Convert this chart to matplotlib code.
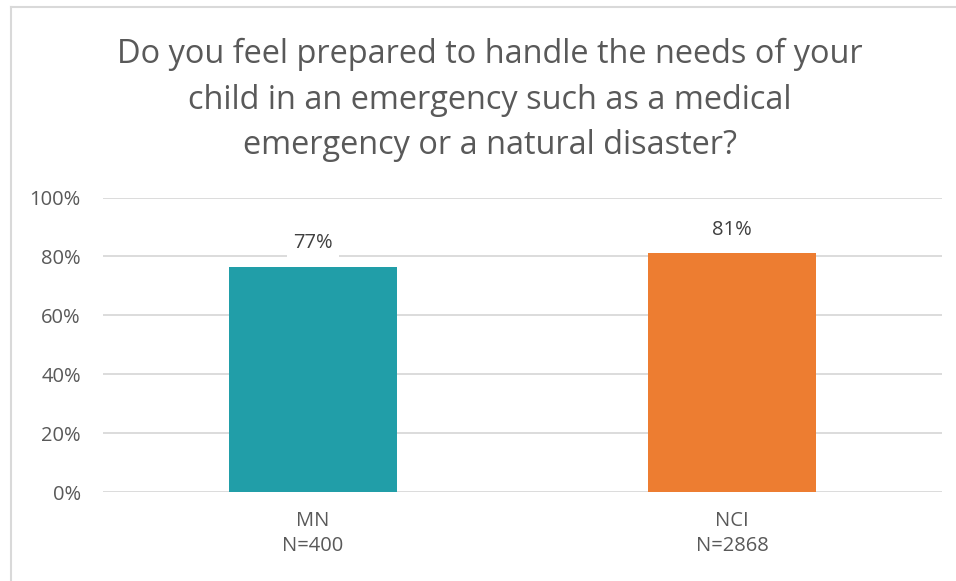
import matplotlib.pyplot as plt
from matplotlib.lines import Line2D

categories = ["MN\nN=400", "NCI\nN=2868"]
values = [0.765, 0.81]
labels = ["77%", "81%"]
colors = ["#219EA8", "#ED7D31"]
yticks = [0, 0.2, 0.4, 0.6, 0.8, 1.0]
ytick_labels = ["0%", "20%", "40%", "60%", "80%", "100%"]

title = ("Do you feel prepared to handle the needs of your\n"
         "child in an emergency such as a medical\n"
         "emergency or a natural disaster?")

plt.rcParams['font.family'] = ['Open Sans', 'DejaVu Sans']
txt = "#595959"

fig = plt.figure(figsize=(9.56, 5.81), dpi=100)
ax = fig.add_axes([103/956, 1 - 492/581, 839/956, 294.5/581])

x = range(len(categories))
ax.bar(x, values, width=0.4, color=colors, zorder=2)
ax.set_xlim(-0.5, 1.5)
ax.set_ylim(0, 1.0)

ax.set_yticks(yticks)
ax.set_yticklabels(ytick_labels, color=txt, fontsize=14.5)
ax.set_xticks(list(x))
ax.set_xticklabels(categories, color=txt, fontsize=14.5, linespacing=1.3)
ax.tick_params(length=0)
ax.tick_params(axis='x', pad=14)
ax.tick_params(axis='y', pad=16)
ax.grid(axis='y', color="#d9d9d9", linewidth=1.3, zorder=0)
ax.set_axisbelow(True)
for s in ax.spines.values():
    s.set_visible(False)

for i, (v, lab) in enumerate(zip(values, labels)):
    ax.annotate(lab, (i, v), xytext=(0, 10), textcoords="offset points",
                ha="center", va="bottom", fontsize=14.5, color="#404040",
                bbox=dict(boxstyle="square,pad=0.3", fc="white", ec="none"),
                zorder=3)

fig.text(490/956, 1 - 100/581, title, ha="center", va="center",
         fontsize=23.4, color=txt, linespacing=1.5)

# chart border (left and top edges visible)
fig.add_artist(Line2D([10.5/956, 10.5/956], [0, 1 - 7/581], transform=fig.transFigure,
                      color="#d9d9d9", linewidth=1.5))
fig.add_artist(Line2D([10.5/956, 1], [1 - 7/581, 1 - 7/581], transform=fig.transFigure,
                      color="#d9d9d9", linewidth=1.5))

fig.savefig("out.png", dpi=100)
